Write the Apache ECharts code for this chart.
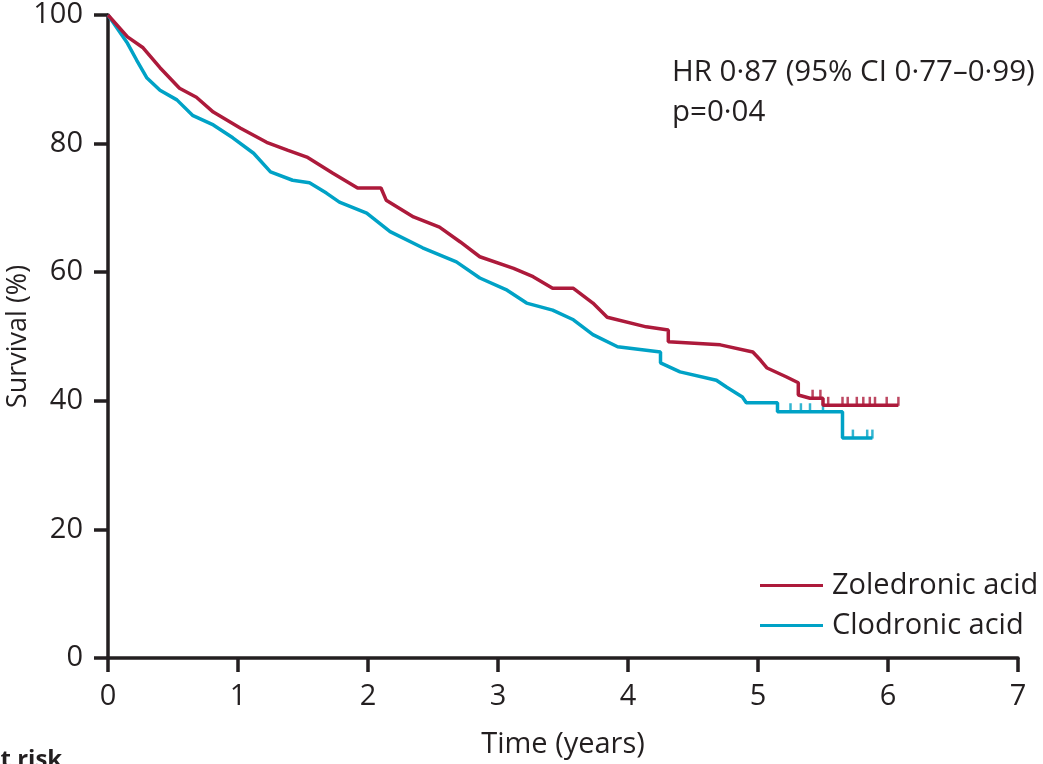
<!DOCTYPE html>
<html>
<head>
<meta charset="utf-8">
<title>Survival</title>
<script src="https://cdn.jsdelivr.net/npm/echarts@6/dist/echarts.min.js"></script>
<style>
  html, body { margin: 0; padding: 0; background: #fff; }
  #echart { width: 1043px; height: 764px; }
</style>
</head>
<body>
<div id="echart"></div>
<script type="text/javascript">
// values: time (years) / survival (%)
// a repeated time marks a vertical drop of the curve
var zolTime = [0, 0.15, 0.27, 0.4, 0.55, 0.68, 0.81, 1.02, 1.22, 1.38, 1.53, 1.73, 1.92, 2.1, 2.14, 2.35, 2.55, 2.71, 2.86, 3.12, 3.27, 3.42, 3.58, 3.73, 3.84, 4.14, 4.31, 4.31, 4.71, 4.96, 5.02, 5.07, 5.22, 5.31, 5.31, 5.4, 5.5, 5.5, 6.08];
var zolSurv = [100, 96.6, 94.9, 91.8, 88.6, 87.2, 84.9, 82.4, 80.2, 79, 77.9, 75.4, 73.1, 73.1, 71.2, 68.6, 67, 64.7, 62.4, 60.6, 59.3, 57.5, 57.5, 55.2, 53, 51.5, 51, 49.2, 48.7, 47.6, 46.3, 45.1, 43.7, 42.8, 40.9, 40.4, 40.4, 39.3, 39.3];

var cloTime = [0, 0.15, 0.22, 0.3, 0.4, 0.53, 0.65, 0.81, 0.96, 1.12, 1.25, 1.42, 1.55, 1.68, 1.78, 1.99, 2.17, 2.42, 2.68, 2.86, 3.07, 3.22, 3.42, 3.58, 3.73, 3.92, 4.25, 4.25, 4.4, 4.68, 4.76, 4.88, 4.91, 5.15, 5.15, 5.65, 5.65, 5.88];
var cloSurv = [100, 95.6, 93, 90.2, 88.3, 86.8, 84.4, 82.9, 80.9, 78.5, 75.6, 74.3, 73.9, 72.3, 70.9, 69.2, 66.3, 63.8, 61.6, 59.1, 57.2, 55.2, 54.1, 52.6, 50.3, 48.4, 47.6, 45.9, 44.5, 43.2, 42.1, 40.6, 39.7, 39.7, 38.3, 38.3, 34.2, 34.2];

// censoring marks in the tail
var zolCensor = [5.42, 5.48, 5.54, 5.65, 5.69, 5.76, 5.81, 5.86, 5.9, 5.99, 6.08];
var cloCensor = [5.25, 5.33, 5.4, 5.5, 5.73, 5.84, 5.88];

var seriesNames = ["Zoledronic acid", "Clodronic acid"];
var xTicks = [0, 1, 2, 3, 4, 5, 6, 7];
var yTicks = [0, 20, 40, 60, 80, 100];
var statLines = ["HR 0·87 (95% CI 0·77–0·99)", "p=0·04"];

function pairs(xs, ys) {
  return xs.map(function (x, i) { return [x, ys[i]]; });
}
function lastValue(xs, ys, t) {
  var v = ys[0];
  for (var i = 0; i < xs.length; i++) { if (xs[i] <= t) v = ys[i]; }
  return v;
}

var RED = "#ad1a3b";
var CYAN = "#00a2c6";
var INK = "#231f20";
var FONT = "Open Sans";

var table_chart = echarts.init(document.getElementById("echart"));
table_chart.setOption({
  animation: false,
  textStyle: { fontFamily: FONT, color: INK },
  grid: { left: 108, right: 25, top: 15, bottom: 106, outerBoundsMode: "none", containLabel: false },
  legend: {
    orient: "vertical",
    left: 755,
    top: 566,
    itemWidth: 63,
    itemHeight: 3,
    itemGap: 11,
    icon: "rect",
    data: seriesNames,
    textStyle: { fontFamily: FONT, fontSize: 29, color: INK, padding: [0, 0, 0, 4] }
  },
  xAxis: {
    type: "value",
    min: 0,
    max: 7,
    interval: 1,
    name: "Time (years)",
    nameLocation: "middle",
    nameGap: 72,
    nameMoveOverlap: false,
    nameTextStyle: { fontSize: 29, color: INK },
    axisLine: { show: true, onZero: false, lineStyle: { color: INK, width: 3.5 } },
    axisTick: { show: true, length: 14, lineStyle: { color: INK, width: 3.5 } },
    axisLabel: { fontSize: 29, color: INK, margin: 24,
      formatter: function (v) { return xTicks.indexOf(v) >= 0 ? String(v) : ""; } },
    splitLine: { show: false }
  },
  yAxis: {
    type: "value",
    min: 0,
    max: 100,
    interval: 20,
    name: "Survival (%)",
    nameLocation: "middle",
    nameGap: 76,
    nameMoveOverlap: false,
    nameTextStyle: { fontSize: 27, color: INK },
    axisLine: { show: true, onZero: false, lineStyle: { color: INK, width: 3.5 } },
    axisTick: { show: true, length: 14, lineStyle: { color: INK, width: 3.5 } },
    axisLabel: { fontSize: 29, color: INK, margin: 25,
      formatter: function (v) { return yTicks.indexOf(v) >= 0 ? String(v) : ""; } },
    splitLine: { show: false }
  },
  graphic: [
    {
      type: "text",
      left: 672,
      top: 53,
      style: { text: statLines.join("\n"), font: "29.5px " + FONT, fill: INK, lineHeight: 40 }
    },
    {
      type: "text",
      left: -16,
      top: 748,
      style: { text: "At risk", font: "bold 24px " + FONT, fill: INK }
    }
  ],
  series: [
    {
      name: seriesNames[0],
      type: "line",
      data: pairs(zolTime, zolSurv),
      showSymbol: false,
      lineStyle: { color: RED, width: 3.5 },
      itemStyle: { color: RED },
      z: 3
    },
    {
      name: seriesNames[1],
      type: "line",
      data: pairs(cloTime, cloSurv),
      showSymbol: false,
      lineStyle: { color: CYAN, width: 3.5 },
      itemStyle: { color: CYAN },
      z: 2
    },
    {
      type: "scatter",
      data: zolCensor.map(function (t) { return [t, lastValue(zolTime, zolSurv, t)]; }),
      symbol: "rect",
      symbolSize: [2.5, 9],
      symbolOffset: [0, -4],
      itemStyle: { color: RED },
      silent: true,
      z: 3
    },
    {
      type: "scatter",
      data: cloCensor.map(function (t) { return [t, lastValue(cloTime, cloSurv, t)]; }),
      symbol: "rect",
      symbolSize: [2.5, 9],
      symbolOffset: [0, -4],
      itemStyle: { color: CYAN },
      silent: true,
      z: 2
    }
  ]
});
</script>
</body>
</html>
